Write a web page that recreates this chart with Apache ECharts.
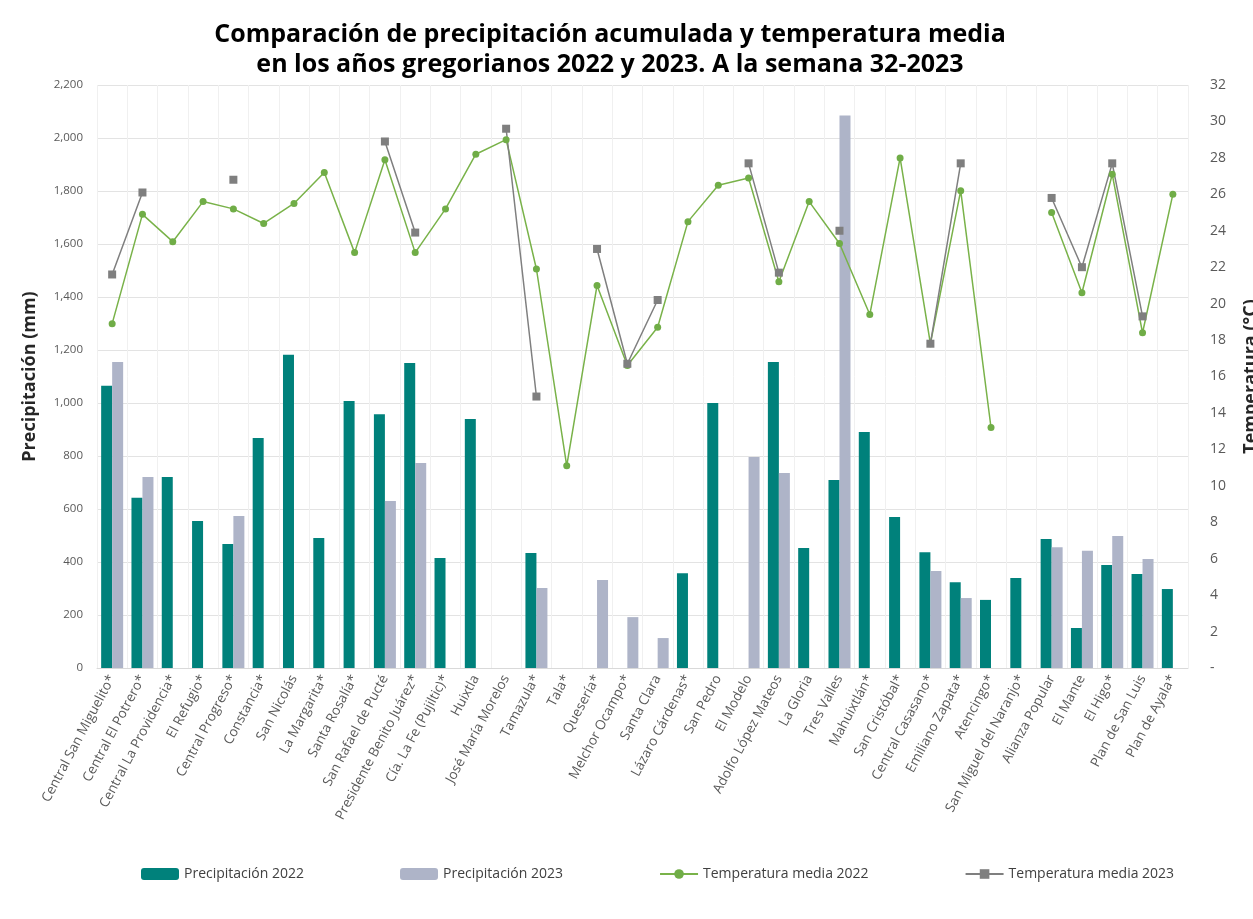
<!DOCTYPE html>
<html>
<head>
<meta charset="utf-8">
<script src="https://cdn.jsdelivr.net/npm/echarts@6/dist/echarts.min.js"></script>
<style>
  html, body { margin: 0; padding: 0; background: #fff; }
  #main { width: 1253px; height: 919px; }
</style>
</head>
<body>
<div id="main"></div>
<script>
// ingenios (categorias del eje x)
const ingenios = [
  'Central San Miguelito*', 'Central El Potrero*', 'Central La Providencia*', 'El Refugio*',
  'Central Progreso*', 'Constancia*', 'San Nicolás', 'La Margarita*', 'Santa Rosalía*',
  'San Rafael de Pucté', 'Presidente Benito Juárez*', 'Cía. La Fe (Pujiltic)*', 'Huixtla',
  'José María Morelos', 'Tamazula*', 'Tala*', 'Quesería*', 'Melchor Ocampo*', 'Santa Clara',
  'Lázaro Cárdenas*', 'San Pedro', 'El Modelo', 'Adolfo López Mateos', 'La Gloria',
  'Tres Valles', 'Mahuixtlán*', 'San Cristóbal*', 'Central Casasano*', 'Emiliano Zapata*',
  'Atencingo*', 'San Miguel del Naranjo*', 'Alianza Popular', 'El Mante', 'El Higo*',
  'Plan de San Luis', 'Plan de Ayala*'
];

// precipitacion acumulada (mm)
const precip2022 = [
  1065, 642, 721, 555, 468, 868, 1182, 491, 1008, 958, 1151, 415, 940,
  null, 434, null, null, null, null, 358, 1000, null, 1155, 453, 709,
  891, 570, 437, 324, 257, 340, 487, 151, 389, 355, 298
];
const precip2023 = [
  1155, 721, null, null, 574, null, null, null, null, 630, 774, null, null,
  null, 302, null, 332, 192, 113, null, null, 796, 736, null, 2085,
  null, null, 366, 264, null, null, 456, 442, 498, 411, null
];

// temperatura media (°C)
const temp2022 = [
  18.9, 24.9, 23.4, 25.6, 25.2, 24.4, 25.5, 27.2, 22.8, 27.9, 22.8, 25.2, 28.2,
  29.0, 21.9, 11.1, 21.0, 16.6, 18.7, 24.5, 26.5, 26.9, 21.2, 25.6, 23.3,
  19.4, 28.0, 17.8, 26.2, 13.2, null, 25.0, 20.6, 27.1, 18.4, 26.0
];
const temp2023 = [
  21.6, 26.1, null, null, 26.8, null, null, null, null, 28.9, 23.9, null, null,
  29.6, 14.9, null, 23.0, 16.7, 20.2, null, null, 27.7, 21.7, null, 24.0,
  null, null, 17.8, 27.7, null, null, 25.8, 22.0, 27.7, 19.3, null
];

const font = "'Open Sans', 'Noto Sans', sans-serif";
const chart = echarts.init(document.getElementById('main'));

const option = {
  backgroundColor: '#ffffff',
  textStyle: { fontFamily: font },
  title: {
    text: 'Comparación de precipitación acumulada y temperatura media\nen los años gregorianos 2022 y 2023. A la semana 32-2023',
    left: 605,
    top: 15,
    textAlign: 'center',
    textStyle: { fontSize: 25, fontWeight: 'bold', color: '#000', lineHeight: 30, fontFamily: font }
  },
  legend: {
    left: 136,
    top: 862,
    itemWidth: 38,
    itemHeight: 12,
    itemGap: 96,
    textStyle: { fontSize: 14, color: '#404040', fontFamily: font },
    data: ['Precipitación 2022', 'Precipitación 2023', 'Temperatura media 2022', 'Temperatura media 2023']
  },
  grid: { left: 97, right: 65, top: 85, bottom: 251, outerBoundsMode: 'none' },
  xAxis: {
    type: 'category',
    data: ingenios,
    axisTick: { show: false },
    axisLine: { lineStyle: { color: '#d9d9d9' } },
    splitLine: { show: true, interval: 0, lineStyle: { color: '#f0f0f0' } },
    axisLabel: { interval: 0, rotate: 62, fontSize: 13.5, color: '#595959', margin: 8 }
  },
  yAxis: [
    {
      type: 'value',
      min: 0, max: 2200, interval: 200,
      name: 'Precipitación (mm)',
      nameLocation: 'middle',
      nameGap: 58,
      nameRotate: 90,
      nameTextStyle: { fontSize: 18, fontWeight: 'bold', color: '#262626' },
      axisLabel: { fontSize: 11.5, color: '#595959', margin: 14,
        formatter: v => v.toLocaleString('en-US') },
      splitLine: { lineStyle: { color: '#e3e3e3' } },
      axisLine: { show: false }, axisTick: { show: false }
    },
    {
      type: 'value',
      min: 0, max: 32, interval: 2,
      name: 'Temperatura (°C)',
      nameLocation: 'middle',
      nameGap: 54,
      nameRotate: 90,
      nameTextStyle: { fontSize: 18, fontWeight: 'bold', color: '#262626' },
      axisLabel: { fontSize: 14, color: '#595959', margin: 22,
        formatter: v => (v === 0 ? '-' : String(v)) },
      splitLine: { show: false },
      axisLine: { show: false }, axisTick: { show: false }
    }
  ],
  series: [
    {
      name: 'Precipitación 2022', type: 'bar', data: precip2022,
      barWidth: 11, barGap: '0%',
      itemStyle: { color: '#00817b' }
    },
    {
      name: 'Precipitación 2023', type: 'bar', data: precip2023,
      barWidth: 11, barGap: '0%',
      itemStyle: { color: '#aeb4c8' }
    },
    {
      name: 'Temperatura media 2022', type: 'line', yAxisIndex: 1, data: temp2022,
      symbol: 'circle', symbolSize: 7, connectNulls: false,
      lineStyle: { color: '#79b249', width: 1.5 },
      itemStyle: { color: '#70ad47' }
    },
    {
      name: 'Temperatura media 2023', type: 'line', yAxisIndex: 1, data: temp2023,
      symbol: 'rect', symbolSize: 8, connectNulls: false,
      lineStyle: { color: '#7f7f7f', width: 1.5 },
      itemStyle: { color: '#7f7f7f' }
    }
  ]
};

chart.setOption(option);
</script>
</body>
</html>
